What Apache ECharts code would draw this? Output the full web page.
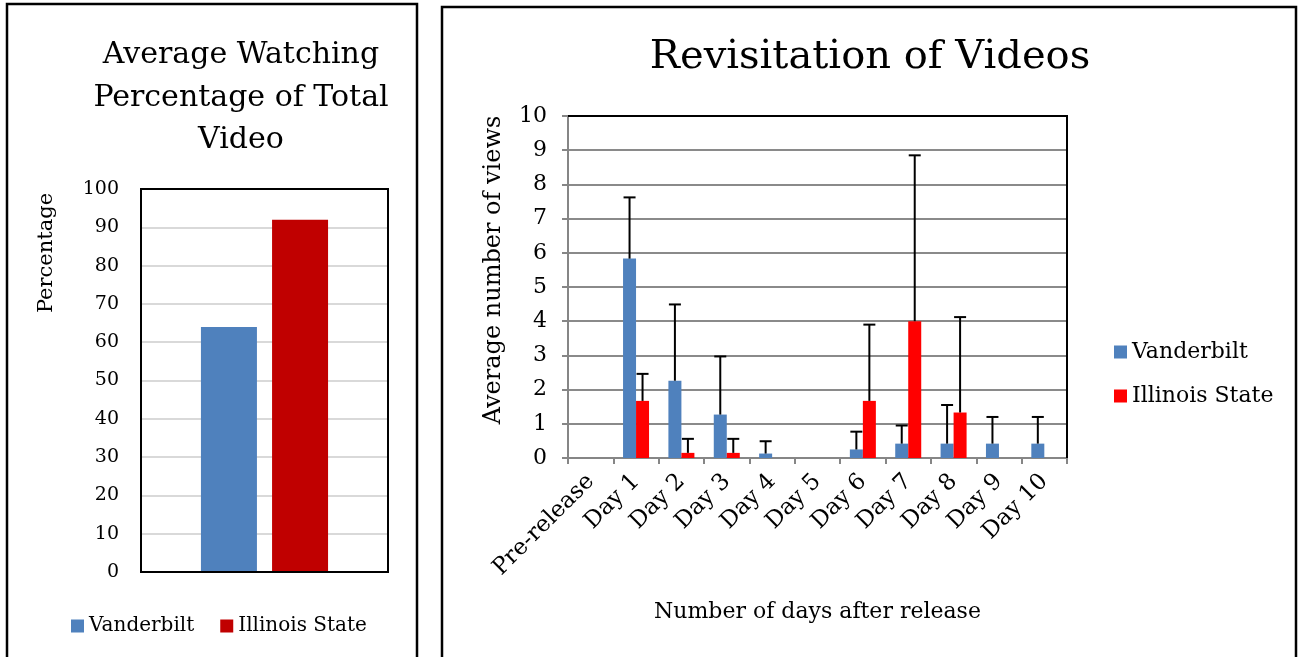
<!DOCTYPE html>
<html>
<head>
<meta charset="utf-8">
<script src="https://cdn.jsdelivr.net/npm/echarts@6/dist/echarts.min.js"></script>
<style>html,body{margin:0;padding:0;background:#fff;}#c{width:1300px;height:657px;}</style>
</head>
<body>
<div id="c"></div>
<script>
// ---- Left chart data ----
const leftSeriesNames = ['Vanderbilt', 'Illinois State'];
const leftValues = [64, 92];
const leftTicks = [0, 10, 20, 30, 40, 50, 60, 70, 80, 90, 100];

// ---- Right chart data ----
const categories = ['Pre-release', 'Day 1', 'Day 2', 'Day 3', 'Day 4', 'Day 5', 'Day 6', 'Day 7', 'Day 8', 'Day 9', 'Day 10'];
const vanderbilt = [0, 5.83, 2.26, 1.27, 0.13, 0, 0.25, 0.42, 0.42, 0.42, 0.42];
const vanderbiltErr = [0, 1.79, 2.23, 1.70, 0.36, 0, 0.52, 0.53, 1.13, 0.78, 0.78];
const illinois = [0, 1.67, 0.15, 0.15, 0, 0, 1.67, 4.00, 1.33, 0, 0];
const illinoisErr = [0, 0.79, 0.41, 0.41, 0, 0, 2.23, 4.85, 2.79, 0, 0];
const rightTicks = [0, 1, 2, 3, 4, 5, 6, 7, 8, 9, 10];

const FONT = 'DejaVu Serif';
const BLUE = '#4f81bd';
const DARKRED = '#c00000';
const RED = '#ff0000';

const LG = {left: 141, top: 189, width: 247, height: 383};
const RG = {left: 568, top: 116, width: 499, height: 342};

function errData(vals, errs) {
  const out = [];
  vals.forEach((v, i) => { if (errs[i] > 0) out.push([i, v, v + errs[i]]); });
  return out;
}
function errRender(offset) {
  return function (params, api) {
    const i = api.value(0);
    const base = api.coord([i, api.value(1)]);
    const top = api.coord([i, api.value(2)]);
    const x = base[0] + offset;
    const st = {stroke: '#000', lineWidth: 2};
    return {
      type: 'group',
      children: [
        {type: 'line', shape: {x1: x, y1: base[1], x2: x, y2: top[1]}, style: st},
        {type: 'line', shape: {x1: x - 6, y1: top[1], x2: x + 6, y2: top[1]}, style: st}
      ]
    };
  };
}

const chart = echarts.init(document.getElementById('c'), null, {renderer: 'canvas'});
const option = {
  animation: false,
  backgroundColor: '#fff',
  textStyle: {fontFamily: FONT, color: '#000'},
  grid: [
    {left: LG.left, top: LG.top, width: LG.width, height: LG.height, containLabel: false},
    {left: RG.left, top: RG.top, width: RG.width, height: RG.height, containLabel: false}
  ],
  legend: [
    {
      left: 66, top: 611, orient: 'horizontal', itemWidth: 13, itemHeight: 13, itemGap: 26,
      textStyle: {fontFamily: FONT, fontSize: 20, color: '#000'},
      data: [
        {name: leftSeriesNames[0], icon: 'rect', itemStyle: {color: BLUE}},
        {name: leftSeriesNames[1], icon: 'rect', itemStyle: {color: DARKRED}}
      ],
      selectedMode: false
    },
    {
      left: 1109, top: 336, orient: 'vertical', itemWidth: 13, itemHeight: 13, itemGap: 22,
      textStyle: {fontFamily: FONT, fontSize: 22, color: '#000'},
      data: [
        {name: 'Vanderbilt', icon: 'rect', itemStyle: {color: BLUE}},
        {name: 'Illinois State', icon: 'rect', itemStyle: {color: RED}}
      ],
      selectedMode: false
    }
  ],
  xAxis: [
    {
      gridIndex: 0, type: 'category', data: [''],
      axisLine: {show: true, lineStyle: {color: '#000', width: 2}},
      axisTick: {show: false}, axisLabel: {show: false}
    },
    {
      gridIndex: 1, type: 'category', data: categories,
      axisLine: {show: true, lineStyle: {color: '#868686', width: 2}},
      axisTick: {show: true, length: 6, lineStyle: {color: '#868686', width: 2}},
      axisLabel: {rotate: 45, fontFamily: FONT, fontSize: 23, color: '#000', margin: 20, interval: 0},
      name: 'Number of days after release', nameLocation: 'middle', nameGap: 143,
      nameTextStyle: {fontFamily: FONT, fontSize: 22, color: '#000'}
    }
  ],
  yAxis: [
    {
      gridIndex: 0, type: 'value', min: leftTicks[0], max: leftTicks[leftTicks.length - 1], interval: 10,
      axisLine: {show: false}, axisTick: {show: false},
      axisLabel: {fontFamily: FONT, fontSize: 19, color: '#000', margin: 22},
      splitLine: {lineStyle: {color: '#d9d9d9', width: 2}}
    },
    {
      gridIndex: 1, type: 'value', min: rightTicks[0], max: rightTicks[rightTicks.length - 1], interval: 1,
      axisLine: {show: true, lineStyle: {color: '#868686', width: 2}},
      axisTick: {show: true, length: 6, lineStyle: {color: '#868686', width: 2}},
      axisLabel: {fontFamily: FONT, fontSize: 22, color: '#000', margin: 21},
      splitLine: {lineStyle: {color: '#8a8a8a', width: 2}}
    }
  ],
  series: [
    {name: leftSeriesNames[0], type: 'bar', xAxisIndex: 0, yAxisIndex: 0, data: [leftValues[0]],
      barWidth: 56, barGap: '27%', itemStyle: {color: BLUE}},
    {name: leftSeriesNames[1], type: 'bar', xAxisIndex: 0, yAxisIndex: 0, data: [leftValues[1]],
      barWidth: 56, barGap: '27%', itemStyle: {color: DARKRED}},
    {name: 'Vanderbilt', type: 'bar', xAxisIndex: 1, yAxisIndex: 1, data: vanderbilt,
      barWidth: 13, barGap: '0%', itemStyle: {color: BLUE}},
    {name: 'Illinois State', type: 'bar', xAxisIndex: 1, yAxisIndex: 1, data: illinois,
      barWidth: 13, barGap: '0%', itemStyle: {color: RED}},
    {name: 'errV', type: 'custom', xAxisIndex: 1, yAxisIndex: 1, renderItem: errRender(-6.5),
      data: errData(vanderbilt, vanderbiltErr), encode: {x: 0, y: [1, 2]}, z: 10, silent: true},
    {name: 'errI', type: 'custom', xAxisIndex: 1, yAxisIndex: 1, renderItem: errRender(6.5),
      data: errData(illinois, illinoisErr), encode: {x: 0, y: [1, 2]}, z: 10, silent: true}
  ],
  graphic: [
    // panel borders
    {type: 'rect', z: 100, shape: {x: 7, y: 4, width: 410, height: 720}, style: {fill: 'none', stroke: '#000', lineWidth: 2.5}},
    {type: 'rect', z: 100, shape: {x: 442, y: 7, width: 854, height: 720}, style: {fill: 'none', stroke: '#000', lineWidth: 2.5}},
    // left plot frame
    {type: 'rect', z: 100, shape: {x: LG.left, y: LG.top, width: LG.width, height: LG.height}, style: {fill: 'none', stroke: '#000', lineWidth: 2}},
    // right plot top and right border
    {type: 'polyline', z: 100, shape: {points: [[RG.left, RG.top], [RG.left + RG.width, RG.top], [RG.left + RG.width, RG.top + RG.height]]}, style: {fill: 'none', stroke: '#000', lineWidth: 2}},
    // titles
    {type: 'text', z: 100, x: 241, y: 55, style: {text: 'Average Watching', font: '30px "DejaVu Serif"', fill: '#000', align: 'center', verticalAlign: 'middle'}},
    {type: 'text', z: 100, x: 241, y: 98, style: {text: 'Percentage of Total', font: '30px "DejaVu Serif"', fill: '#000', align: 'center', verticalAlign: 'middle'}},
    {type: 'text', z: 100, x: 241, y: 140, style: {text: 'Video', font: '30px "DejaVu Serif"', fill: '#000', align: 'center', verticalAlign: 'middle'}},
    {type: 'text', z: 100, x: 870, y: 58, style: {text: 'Revisitation of Videos', font: '40px "DejaVu Serif"', fill: '#000', align: 'center', verticalAlign: 'middle'}},
    // y axis names
    {type: 'text', z: 100, x: 47, y: 253, rotation: Math.PI / 2, style: {text: 'Percentage', font: '21px "DejaVu Serif"', fill: '#000', align: 'center', verticalAlign: 'middle'}},
    {type: 'text', z: 100, x: 494, y: 270, rotation: Math.PI / 2, style: {text: 'Average number of views', font: '24px "DejaVu Serif"', fill: '#000', align: 'center', verticalAlign: 'middle'}}
  ]
};
chart.setOption(option);
</script>
</body>
</html>
